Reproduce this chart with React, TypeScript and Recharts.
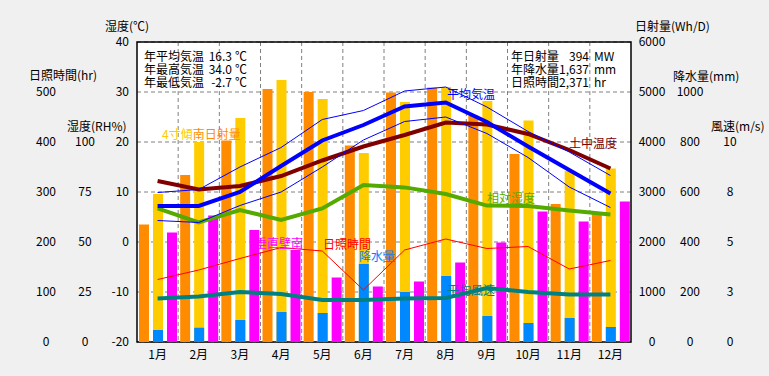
import { ComposedChart, Bar, Line, XAxis, YAxis, CartesianGrid, ReferenceArea } from "recharts";

const months = ["1月", "2月", "3月", "4月", "5月", "6月", "7月", "8月", "9月", "10月", "11月", "12月"];

// 日射量 (Wh/D)
const solarHoriz = [2350, 3340, 4030, 5060, 5000, 3930, 4990, 5090, 4530, 3760, 2760, 2560];
const solarTilt = [2960, 4000, 4480, 5240, 4860, 3780, 4800, 5100, 4820, 4430, 3420, 3470];
const solarWall = [2190, 2530, 2240, 1840, 1290, 1110, 1210, 1590, 1990, 2610, 2410, 2810];
// 降水量 (mm)
const precip = [48, 57, 88, 120, 116, 312, 200, 264, 104, 76, 96, 60];
// 気温 (℃)
const tempMean = [7.2, 7.2, 10.0, 15.2, 20.3, 23.4, 27.1, 27.9, 24.0, 19.1, 14.4, 9.7];
const tempMax = [9.9, 10.5, 15.0, 18.9, 24.5, 26.3, 30.2, 31.0, 27.0, 22.1, 18.0, 13.3];
const tempMin = [4.3, 3.9, 7.3, 10.0, 15.0, 20.4, 24.1, 25.0, 21.7, 16.9, 11.0, 6.9];
const soilTemp = [12.2, 10.5, 11.2, 13.2, 16.3, 19.1, 21.4, 23.9, 23.5, 21.6, 18.4, 14.7];
// 相対湿度 (RH%)
const humidity = [66.8, 59.8, 66, 61, 66.8, 78.5, 77.3, 74, 68.2, 68, 65.7, 63.8];
// 日照時間 (hr)
const sunshine = [125, 144, 167, 189, 182, 104, 184, 206, 187, 191, 146, 163];
// 平均風速 (m/s)
const wind = [2.18, 2.27, 2.5, 2.4, 2.1, 2.1, 2.18, 2.2, 2.7, 2.5, 2.38, 2.38];

const tempTicks = [-20, -10, 0, 10, 20, 30, 40];
const hourTicks = [0, 100, 200, 300, 400, 500];
const rhTicks = [0, 25, 50, 75, 100];
const solarTicks = [0, 1000, 2000, 3000, 4000, 5000, 6000];
const precipTicks = [0, 200, 400, 600, 800, 1000];
const windTicks = [0, 2.5, 5, 7.5, 10];

const rows = months.map((m, i) => ({
  month: m,
  solarHoriz: solarHoriz[i],
  solarTilt: solarTilt[i],
  solarWall: solarWall[i],
  precip: precip[i],
  tempMean: tempMean[i],
  tempMax: tempMax[i],
  tempMin: tempMin[i],
  soilTemp: soilTemp[i],
  humidity: humidity[i],
  sunshine: sunshine[i],
  wind: wind[i],
}));

const font = "'Noto Sans CJK JP', 'Noto Sans', sans-serif";
const tickStyle = { fill: "#000", fontSize: 12 };
const midTick = { fill: "#000", fontSize: 12, textAnchor: "middle" };

// axis ids are named so that they stack outward from the plot in this order
export default function App() {
  return (
    <div
      style={{
        position: "absolute",
        left: 0,
        top: 0,
        width: 769,
        height: 376,
        background: "#f0f0f0",
        fontFamily: font,
      }}
    >
      <ComposedChart width={769} height={376} data={rows} margin={{ top: 42, right: 0, bottom: 0, left: 0 }}>
        <CartesianGrid
          xAxisId="m"
          yAxisId="a_t"
          fill="#fff"
          stroke="#808080"
          strokeDasharray="4 3"
          verticalCoordinatesGenerator={({ offset }: any) =>
            Array.from({ length: 11 }, (_, k) => offset.left + ((k + 1) * offset.width) / 12)
          }
        />
        <XAxis xAxisId="m" dataKey="month" height={34} tickLine={false} axisLine={false} tick={tickStyle} interval={0} />
        <XAxis xAxisId="p" dataKey="month" hide />

        <YAxis yAxisId="a_t" orientation="left" width={37} domain={[-20, 40]} ticks={tempTicks} tickLine={false} axisLine={false} tick={tickStyle} interval={0} />
        <YAxis yAxisId="b_rh" orientation="left" width={30} domain={[0, 150]} ticks={rhTicks} tickLine={false} axisLine={false} tick={midTick} tickMargin={9} interval={0} />
        <YAxis yAxisId="c_hr" orientation="left" width={70} domain={[0, 600]} ticks={hourTicks} tickLine={false} axisLine={false} tick={midTick} tickMargin={18} interval={0} />

        <YAxis yAxisId="a_sr" orientation="right" width={40} domain={[0, 6000]} ticks={solarTicks} tickLine={false} axisLine={false} tick={midTick} tickMargin={15} interval={0} />
        <YAxis yAxisId="b_pr" orientation="right" width={40} domain={[0, 1200]} ticks={precipTicks} tickLine={false} axisLine={false} tick={midTick} tickMargin={13} interval={0} />
        <YAxis
          yAxisId="c_w"
          orientation="right"
          width={58}
          domain={[0, 15]}
          ticks={windTicks}
          tickLine={false}
          axisLine={false}
          tick={midTick}
          tickMargin={13}
          interval={0}
          tickFormatter={(v: number) => String(Math.round(v))}
        />

        <Bar xAxisId="m" yAxisId="a_sr" dataKey="solarHoriz" fill="#ff8c00" barSize={10} isAnimationActive={false} />
        <Bar xAxisId="m" yAxisId="a_sr" dataKey="solarTilt" fill="#ffcc00" barSize={10} isAnimationActive={false} />
        <Bar xAxisId="m" yAxisId="a_sr" dataKey="solarWall" fill="#ff00ff" barSize={10} isAnimationActive={false} />
        <Bar xAxisId="p" yAxisId="b_pr" dataKey="precip" fill="#0088ff" barSize={10} isAnimationActive={false} />

        <Line xAxisId="m" yAxisId="c_hr" dataKey="sunshine" stroke="#ff0000" strokeWidth={1} dot={false} type="linear" isAnimationActive={false} />
        <Line xAxisId="m" yAxisId="c_w" dataKey="wind" stroke="#008080" strokeWidth={4} dot={false} type="linear" isAnimationActive={false} />
        <Line xAxisId="m" yAxisId="b_rh" dataKey="humidity" stroke="#55aa00" strokeWidth={4} dot={false} type="linear" isAnimationActive={false} />
        <Line xAxisId="m" yAxisId="a_t" dataKey="soilTemp" stroke="#800000" strokeWidth={4} dot={false} type="linear" isAnimationActive={false} />
        <Line xAxisId="m" yAxisId="a_t" dataKey="tempMax" stroke="#0000ff" strokeWidth={1} dot={false} type="linear" isAnimationActive={false} />
        <Line xAxisId="m" yAxisId="a_t" dataKey="tempMin" stroke="#0000ff" strokeWidth={1} dot={false} type="linear" isAnimationActive={false} />
        <Line xAxisId="m" yAxisId="a_t" dataKey="tempMean" stroke="#0000ff" strokeWidth={4} dot={false} type="linear" isAnimationActive={false} />

        <ReferenceArea xAxisId="m" yAxisId="a_t" y1={-20} y2={40} fill="none" stroke="#000" strokeWidth={1.5} ifOverflow="visible" />
      </ComposedChart>

      <svg width={769} height={376} style={{ position: "absolute", left: 0, top: 0, pointerEvents: "none" }} fontSize={12}>
        {/* axis titles */}
        <text x={105} y={25} dominantBaseline="central">湿度(℃)</text>
        <text x={29} y={74} dominantBaseline="central">日照時間(hr)</text>
        <text x={67} y={125} dominantBaseline="central">湿度(RH%)</text>
        <text x={635} y={25} dominantBaseline="central">日射量(Wh/D)</text>
        <text x={673} y={75} dominantBaseline="central">降水量(mm)</text>
        <text x={711} y={125} dominantBaseline="central">風速(m/s)</text>

        {/* annual stats */}
        <text x={144} y={55} dominantBaseline="central">年平均気温</text>
        <text x={232} y={55} dominantBaseline="central" textAnchor="end">16.3</text>
        <text x={235} y={55} dominantBaseline="central">℃</text>
        <text x={144} y={68} dominantBaseline="central">年最高気温</text>
        <text x={232} y={68} dominantBaseline="central" textAnchor="end">34.0</text>
        <text x={235} y={68} dominantBaseline="central">℃</text>
        <text x={144} y={81} dominantBaseline="central">年最低気温</text>
        <text x={232} y={81} dominantBaseline="central" textAnchor="end">-2.7</text>
        <text x={235} y={81} dominantBaseline="central">℃</text>

        <text x={511} y={55} dominantBaseline="central">年日射量</text>
        <text x={589} y={55} dominantBaseline="central" textAnchor="end">394</text>
        <text x={594} y={55} dominantBaseline="central">MW</text>
        <text x={511} y={68} dominantBaseline="central">年降水量</text>
        <text x={589} y={68} dominantBaseline="central" textAnchor="end">1,637</text>
        <text x={594} y={68} dominantBaseline="central">mm</text>
        <text x={511} y={81} dominantBaseline="central">日照時間</text>
        <text x={589} y={81} dominantBaseline="central" textAnchor="end">2,371</text>
        <text x={594} y={81} dominantBaseline="central">hr</text>

        {/* series labels */}
        <text x={162} y={133} dominantBaseline="central">
          <tspan fill="#ffcc00">4寸傾</tspan>
          <tspan fill="#ff8c00">南日射量</tspan>
        </text>
        <text x={447} y={93} dominantBaseline="central" fill="#0000ff">平均気温</text>
        <text x={569} y={142} dominantBaseline="central" fill="#800000">土中温度</text>
        <text x={487} y={197} dominantBaseline="central" fill="#55aa00">相対湿度</text>
        <text x={255} y={242} dominantBaseline="central" fill="#ff00ff">垂直壁南</text>
        <text x={323} y={243} dominantBaseline="central" fill="#ff0000">日照時間</text>
        <text x={359} y={255} dominantBaseline="central" fill="#0080ff">降水量</text>
        <text x={447} y={289} dominantBaseline="central" fill="#008080">平均風速</text>
      </svg>
    </div>
  );
}
